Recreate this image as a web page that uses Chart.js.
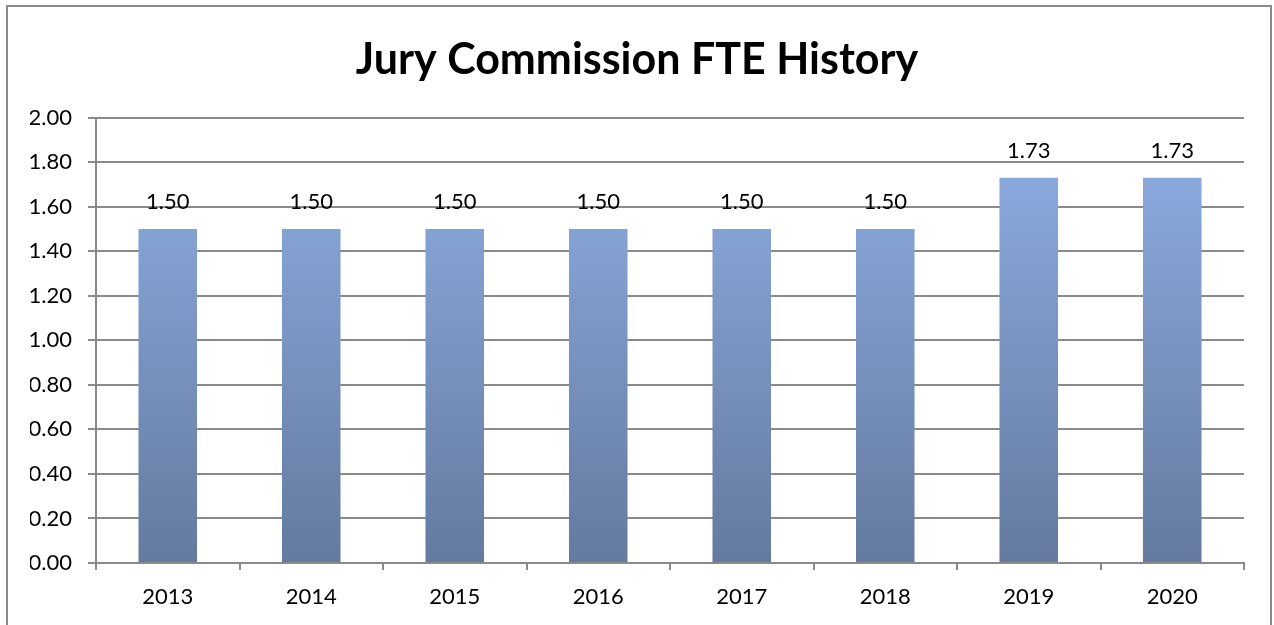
<!DOCTYPE html>
<html>
<head>
<meta charset="utf-8">
<script src="https://cdn.jsdelivr.net/npm/chart.js@4.4.0/dist/chart.umd.min.js"></script>
<style>
  html, body { margin: 0; padding: 0; background: #fff; }
  #wrap { width: 1274px; height: 625px; position: relative; }
</style>
</head>
<body>
<div id="wrap"><canvas id="fteChart" width="1274" height="625"></canvas></div>
<script>
const years = ['2013', '2014', '2015', '2016', '2017', '2018', '2019', '2020'];
const fte = [1.50, 1.50, 1.50, 1.50, 1.50, 1.50, 1.73, 1.73];
const yTicks = [0, 0.2, 0.4, 0.6, 0.8, 1.0, 1.2, 1.4, 1.6, 1.8, 2.0];

const FONT = 'Lato, "Open Sans", sans-serif';

// outer frame around the whole chart
const framePlugin = {
  id: 'frame',
  afterDraw(chart) {
    const ctx = chart.ctx;
    ctx.save();
    ctx.strokeStyle = '#8a8a8a';
    ctx.lineWidth = 2;
    ctx.strokeRect(7, 6, 1264, 640);
    ctx.restore();
  }
};

// value labels above each bar
const labelPlugin = {
  id: 'barLabels',
  afterDatasetsDraw(chart) {
    const ctx = chart.ctx;
    const meta = chart.getDatasetMeta(0);
    ctx.save();
    ctx.font = '22px ' + FONT;
    ctx.fillStyle = '#000';
    ctx.textAlign = 'center';
    ctx.textBaseline = 'middle';
    meta.data.forEach((bar, i) => {
      ctx.fillText(fte[i].toFixed(2), bar.x, bar.y - 27);
    });
    ctx.restore();
  }
};

function barGradient(context) {
  const chart = context.chart;
  const area = chart.chartArea;
  if (!area) return '#7a93c4';
  const y = chart.scales.y;
  const g = chart.ctx.createLinearGradient(0, y.getPixelForValue(1.73), 0, area.bottom);
  g.addColorStop(0, '#8aa8dc');
  g.addColorStop(1, '#647a9f');
  return g;
}

window.onload = function() {
  const ctx = document.getElementById('fteChart').getContext('2d');
  new Chart(ctx, {
    type: 'bar',
    data: {
      labels: years,
      datasets: [{
        data: fte,
        backgroundColor: barGradient,
        borderWidth: 0,
        categoryPercentage: 0.8,
        barPercentage: 0.51
      }]
    },
    options: {
      responsive: false,
      animation: false,
      layout: { padding: { left: 30, right: 30, top: 0, bottom: 0 } },
      plugins: {
        legend: { display: false },
        tooltip: { enabled: false },
        title: {
          display: true,
          text: 'Jury Commission FTE History',
          color: '#000',
          font: { family: FONT, size: 43, weight: 'bold', lineHeight: 1.2 },
          padding: { top: 34, bottom: 32 }
        }
      },
      scales: {
        x: {
          grid: {
            offset: true,
            drawOnChartArea: false,
            drawTicks: true,
            tickLength: 7,
            color: '#8a8a8a',
            lineWidth: 2
          },
          border: { color: '#8a8a8a', width: 2 },
          ticks: {
            color: '#000',
            font: { family: FONT, size: 22 },
            padding: 14
          },
          afterFit(scale) { scale.height = 62; }
        },
        y: {
          min: 0,
          max: 2,
          afterBuildTicks(scale) {
            scale.ticks = yTicks.map(v => ({ value: v }));
          },
          grid: {
            color: '#8a8a8a',
            lineWidth: 2,
            tickLength: 8
          },
          border: { color: '#8a8a8a', width: 2 },
          ticks: {
            color: '#000',
            font: { family: FONT, size: 22 },
            padding: 16,
            callback: v => Number(v).toFixed(2)
          },
          afterFit(scale) { scale.width = 66; }
        }
      }
    },
    plugins: [framePlugin, labelPlugin]
  });
};
</script>
</body>
</html>
